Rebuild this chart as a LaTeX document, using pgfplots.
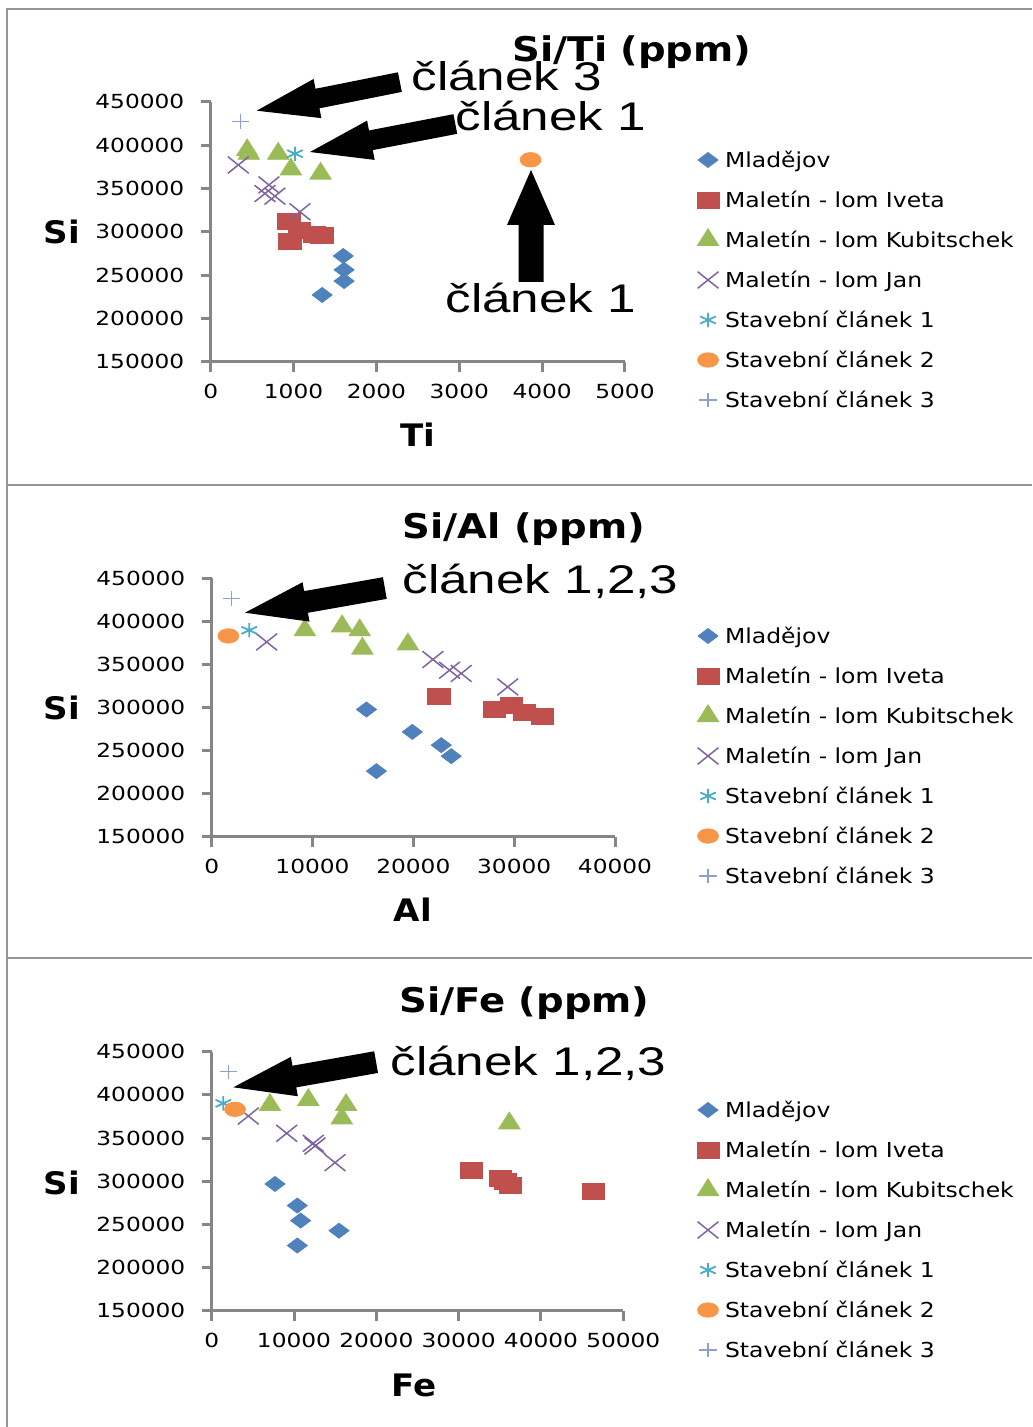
\documentclass[border=0pt]{standalone}
\usepackage{fontspec}
\usepackage{pgfplots}
\pgfplotsset{compat=1.18}
\newfontfamily\tickfont{DejaVu Sans}[FakeStretch=1.2]
\newfontfamily\legfont{DejaVu Sans}[FakeStretch=1.14]
\newfontfamily\labfont{DejaVu Sans}[FakeStretch=1.1]
\newfontfamily\titfont{DejaVu Sans}[FakeStretch=1.135]
\newfontfamily\annfont{Liberation Sans}[FakeStretch=1.28]
\definecolor{cMl}{HTML}{4F81BD}
\definecolor{cIv}{HTML}{C0504D}
\definecolor{cKu}{HTML}{9BBB59}
\definecolor{cJa}{HTML}{8064A2}
\definecolor{cSa}{HTML}{4BACC6}
\definecolor{cSb}{HTML}{F79646}
\definecolor{cSc}{HTML}{8E9FD0}
\definecolor{axgray}{RGB}{134,134,134}
\definecolor{framegray}{RGB}{150,150,150}
\pgfplotsset{
  panel/.style={
    scale only axis, axis lines*=left, clip=false,
    axis line style={axgray, line width=1.5pt},
    tick align=outside, major tick length=5pt,
    tick style={axgray, line width=1.5pt},
    ymin=150000, ymax=450000, ytick={150000,200000,250000,300000,350000,400000,450000},
    yticklabels={150000,200000,250000,300000,350000,400000,450000},
    scaled ticks=false,
    tick label style={font=\tickfont\fontsize{9.7pt}{11pt}\selectfont, inner sep=0pt, text=black},
    y tick label style={anchor=east, xshift=-8pt},
    x tick label style={anchor=north, yshift=-6pt},
    only marks,
    legend image code/.code={\draw[##1] plot coordinates {(0pt,0pt)};},
    legend cell align=left,
    legend style={draw=none, fill=none, inner sep=0pt, outer sep=0pt, anchor=north west,
      row sep=7pt, /tikz/every odd column/.append style={column sep=3pt},
      nodes={inner sep=0pt, text height=7.5pt, text depth=0pt, minimum height=13pt,
        font=\legfont\fontsize{10.3pt}{12pt}\selectfont}},
    every axis title shift=0pt,
    title style={font=\titfont\bfseries\fontsize{17pt}{19pt}\selectfont, anchor=center, inner sep=0pt},
    label style={font=\labfont\bfseries\fontsize{15.5pt}{17pt}\selectfont, inner sep=0pt, anchor=center},
    ylabel style={rotate=-90},
    ylabel={Si},
    legend entries={Mladějov, Maletín - lom Iveta, Maletín - lom Kubitschek, Maletín - lom Jan, Stavební článek 1, Stavební článek 2, Stavební článek 3},
  },
  sMl/.style={mark=diamond*, color=cMl, mark size=5pt, mark options={rotate=90}},
  sIv/.style={mark=square*, color=cIv, mark size=4pt, mark options={xscale=1.38}},
  sKu/.style={mark=triangle*, color=cKu, mark size=5.6pt, mark options={xscale=1.1}},
  sJa/.style={mark=x, color=cJa, mark size=5.9pt, mark options={xscale=1.25, line width=0.75pt}},
  sSa/.style={mark=asterisk, color=cSa, mark size=3.6pt, mark options={xscale=1.25, line width=0.9pt}},
  sSb/.style={mark=*, color=cSb, mark size=3.6pt, mark options={xscale=1.45}},
  sSc/.style={mark=+, color=cSc, mark size=3.6pt, mark options={xscale=1.2, line width=0.75pt}},
}
\newcommand\bigarrow[7]{\fill[black,shift={(#1,#2)},rotate=#3] (0,0) -- (#5,#6) -- (#5,#7) -- (#4,#7) -- (#4,-#7) -- (#5,-#7) -- (#5,-#6) -- cycle;}
\begin{document}
\begin{tikzpicture}
\useasboundingbox (0,0) rectangle (516pt,-713.5pt);
% ---------------- panel 1: Si/Ti
\begin{axis}[panel, at={(105.35pt,-180.85pt)}, anchor=south west,
  width=207.15pt, height=130pt,
  xmin=0, xmax=5000, xtick={0,1000,2000,3000,4000,5000},
  xticklabels={0,1000,2000,3000,4000,5000},
  title={Si/Ti (ppm)}, title style={at={(axis description cs:1.017,1.191)}},
  xlabel={Ti}, xlabel style={at={(axis description cs:0.5,-0.28)}},
  ylabel style={at={(axis description cs:-0.359,0.5)}},
  legend style={at={(1.1738,0.8258)}}]
\addplot[sMl] coordinates {(1600,272000) (1610,256000) (1610,243000) (1345,227000) (1246,297000)};
\addplot[sIv] coordinates {(944,312000) (956,289000) (1065,302000) (1246,297000) (1342,296000)};
\addplot[sKu] coordinates {(440,394000) (460,390000) (815,390000) (968,372000) (1326,367000)};
\addplot[sJa] coordinates {(333,377000) (703,354000) (655,344000) (775,341000) (1077,323000)};
\addplot[sSa] coordinates {(1017,390000)};
\addplot[sSb] coordinates {(3860,383000)};
\addplot[sSc] coordinates {(362,427000)};
\end{axis}
% ---------------- panel 2: Si/Al
\begin{axis}[panel, at={(105.85pt,-418.35pt)}, anchor=south west,
  width=201.65pt, height=129.2pt,
  xmin=0, xmax=40000, xtick={0,10000,20000,30000,40000},
  xticklabels={0,10000,20000,30000,40000},
  title={Si/Al (ppm)}, title style={at={(axis description cs:0.774,1.191)}},
  xlabel={Al}, xlabel style={at={(axis description cs:0.499,-0.284)}},
  ylabel style={at={(axis description cs:-0.371,0.5)}},
  legend style={at={(1.2033,0.827)}}]
\addplot[sMl] coordinates {(15350,297700) (19900,271700) (22770,256300) (23760,243500) (16340,226100)};
\addplot[sIv] coordinates {(22530,313100) (28050,297700) (29700,302700) (31020,294900) (32770,289100)};
\addplot[sKu] coordinates {(9240,389700) (12930,394300) (14680,389700) (14950,368400) (19460,373400)};
\addplot[sJa] coordinates {(5450,376100) (21940,355700) (23590,343300) (24750,339500) (29360,323900)};
\addplot[sSa] coordinates {(3720,389700)};
\addplot[sSb] coordinates {(1650,383100)};
\addplot[sSc] coordinates {(1980,426500)};
\end{axis}
% ---------------- panel 3: Si/Fe
\begin{axis}[panel, at={(105.85pt,-655.35pt)}, anchor=south west,
  width=205.8pt, height=129.5pt,
  xmin=0, xmax=50000, xtick={0,10000,20000,30000,40000,50000},
  xticklabels={0,10000,20000,30000,40000,50000},
  title={Si/Fe (ppm)}, title style={at={(axis description cs:0.760,1.188)}},
  xlabel={Fe}, xlabel style={at={(axis description cs:0.4915,-0.287)}},
  ylabel style={at={(axis description cs:-0.364,0.493)}},
  legend style={at={(1.179,0.8251)}}]
\addplot[sMl] coordinates {(7690,296800) (10400,271800) (10810,254400) (10400,225500) (15470,242700)};
\addplot[sIv] coordinates {(31590,313000) (35030,303400) (35640,299500) (36240,295700) (46360,287700)};
\addplot[sKu] coordinates {(7080,388300) (11740,394100) (16320,388300) (15800,372900) (36160,367100)};
\addplot[sJa] coordinates {(4450,375500) (9110,355500) (12340,343900) (12550,340800) (14980,321500)};
\addplot[sSa] coordinates {(1410,390200)};
\addplot[sSb] coordinates {(2830,383300)};
\addplot[sSc] coordinates {(2020,426800)};
\end{axis}
% ---------------- frame, arrows, annotations
\begin{scope}[x=0.5pt,y=-0.5pt]
\draw[framegray, line width=1pt] (7,1427) -- (7,9) -- (1032,9);
\draw[framegray, line width=1pt] (7,485) -- (1032,485);
\draw[framegray, line width=1pt] (7,958) -- (1032,958);
\bigarrow{256.7}{110.7}{11.3}{146}{62}{20}{10}
\bigarrow{310}{152}{10.9}{148}{62}{20}{10}
\bigarrow{531}{170}{-90}{112}{55}{24}{12.5}
\bigarrow{245}{612.7}{10}{142}{62}{20}{11}
\bigarrow{233.3}{1087.3}{10}{145}{62}{20}{11}
\begin{scope}[every node/.style={anchor=base west, inner sep=0pt, font=\annfont\fontsize{20pt}{24pt}\selectfont}]
\node at (411,91) {článek 3};
\node at (455,131) {článek 1};
\node at (445,312.7) {článek 1};
\node at (402,593) {článek 1,2,3};
\node at (390,1075) {článek 1,2,3};
\end{scope}
\end{scope}
\end{tikzpicture}
\end{document}
